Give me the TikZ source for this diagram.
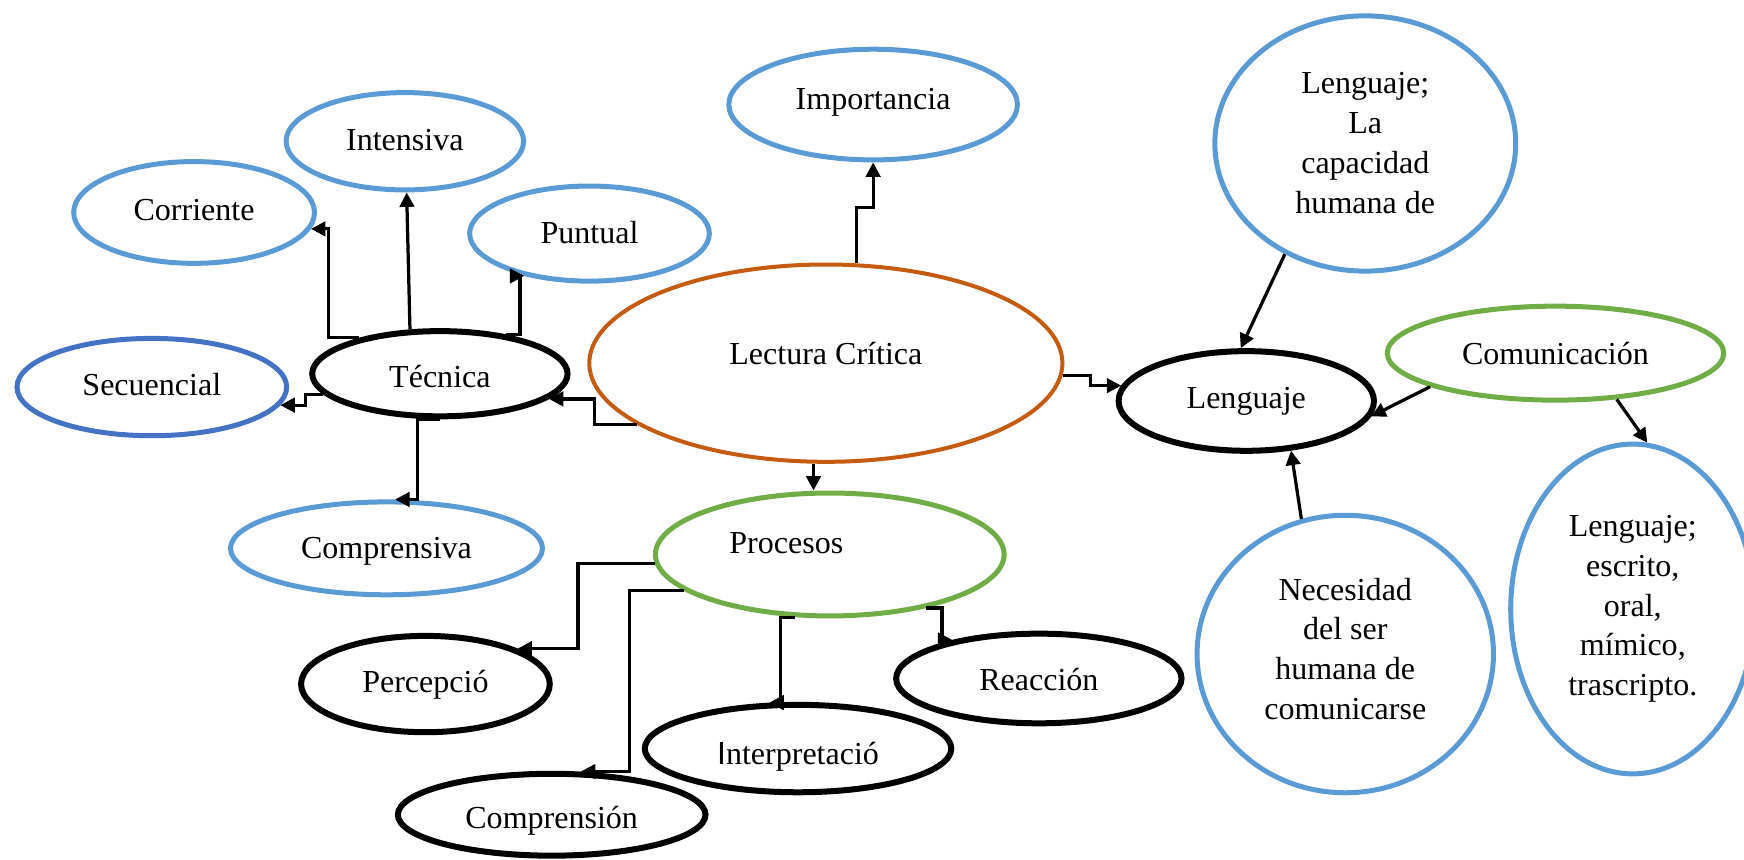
\documentclass[tikz,border=0pt]{standalone}
\usepackage{fontspec}
\setmainfont{Liberation Serif}
\newfontfamily\sansI{Liberation Sans}
\usetikzlibrary{arrows.meta,shapes.geometric}
\definecolor{lblue}{HTML}{5B9BD5}
\definecolor{dblue}{HTML}{4472C4}
\definecolor{orng}{HTML}{C55A11}
\definecolor{grn}{HTML}{70AD47}
\newcommand{\rb}[2]{\raisebox{#1}[10pt][3pt]{#2}}
\begin{document}
\begin{tikzpicture}[x=0.5pt,y=-0.5pt,
  el/.style={ellipse, inner sep=0pt, align=center, font=\fontsize{14.4pt}{17.9pt}\selectfont},
  bl/.style={el, draw=lblue, line width=2.25pt},
  db/.style={el, draw=dblue, line width=2.25pt},
  bk/.style={el, draw=black, line width=2.7pt},
  og/.style={el, draw=orng, line width=1.8pt},
  gr/.style={el, draw=grn, line width=2.25pt},
  conn/.style={line width=1.45pt, -{Triangle[length=6.5pt,width=6.5pt]}}]
\useasboundingbox (0,0) rectangle (1568,773);
% nodes
\node[bl, minimum width=129.75pt, minimum height=49.75pt] (importancia) at (785,94) {\rb{1.5pt}{Importancia}};
\node[bl, minimum width=106.75pt, minimum height=43.75pt] (intensiva) at (364,127) {\rb{-0.5pt}{Intensiva}};
\node[bl, minimum width=108.25pt, minimum height=45.75pt] (corriente) at (174.5,191) {\rb{0pt}{Corriente}};
\node[bl, minimum width=107.75pt, minimum height=42.75pt] (puntual) at (530,210) {\rb{-1pt}{Puntual}};
\node[bk, minimum width=114.8pt, minimum height=38.3pt] (tecnica) at (395.5,336) {\rb{-2.5pt}{Técnica}};
\node[db, minimum width=121.25pt, minimum height=43.75pt] (secuencial) at (136.5,348) {\rb{-0.5pt}{Secuencial}};
\node[og, minimum width=212.7pt, minimum height=88.7pt] (lectura) at (742.5,326.5) {\rb{2.75pt}{Lectura Crítica}};
\node[bl, minimum width=135.25pt, minimum height=114.75pt] (lencap) at (1227.5,129) {\raisebox{-1pt}[\height][\depth]{\begin{tabular}{@{}c@{}}Lenguaje;\\La\\capacidad\\humana de\end{tabular}}};
\node[gr, minimum width=151.25pt, minimum height=42.25pt] (comunic) at (1398.5,317.5) {\rb{-1.5pt}{Comunicación}};
\node[bk, minimum width=114.8pt, minimum height=44.8pt] (lenguaje) at (1120.5,360.5) {\rb{0.25pt}{Lenguaje}};
\node[bl, minimum width=140.25pt, minimum height=41.75pt] (comprensiva) at (347.5,493) {\rb{-1pt}{Comprensiva}};
\node[gr, minimum width=156.75pt, minimum height=55.25pt] (procesos) at (746,498.5) {\rb{3.75pt}{\makebox[0pt]{\hspace*{-39pt}Procesos}}};
\node[bk, minimum width=111.8pt, minimum height=43.3pt] (percepcio) at (382.5,615) {\rb{-0.5pt}{Percepció}};
\node[bk, minimum width=128.3pt, minimum height=40.3pt] (reaccion) at (934,610) {\rb{-2pt}{Reacción}};
\node[bk, minimum width=137.8pt, minimum height=39.3pt] (interpretacio) at (717.5,673) {\rb{-3.5pt}{{\sansI I}nterpretació}};
\node[bk, minimum width=138.3pt, minimum height=36.8pt] (comprension) at (496,732.5) {\rb{-2.75pt}{Comprensión}};
\node[bl, minimum width=133.25pt, minimum height=124.75pt] (necesidad) at (1209.5,588) {\raisebox{1pt}[\height][\depth]{\begin{tabular}{@{}c@{}}Necesidad\\del ser\\humana de\\comunicarse\end{tabular}}};
\node[bl, minimum width=109.75pt, minimum height=148.25pt] (escrito) at (1468,547.5) {Lenguaje;\\escrito,\\oral,\\mímico,\\trascripto.};
% connectors
\draw[conn] (lectura.73.8) -- ++(0,-50) -| (importancia.south);
\draw[conn] (lectura.198.9) -- ++(-38,0) |- (tecnica.-13.8);
\draw[conn] (lectura.-3.1) -- ++(25,0) |- (lenguaje.173.7);
\draw[conn] (lectura.263.2) -- (lectura.263.2 |- procesos.north);
\draw[conn] (tecnica.156.8) -- ++(-28,0) |- (corriente.-8.1);
\draw[conn] (tecnica.124.8) -- (intensiva.-88);
\draw[conn] (tecnica.31.7) -- ++(13,0) |- (puntual.213.8);
\draw[conn] (tecnica.190) -- ++(-16,0) |- (secuencial.-8.4);
\draw[conn] (tecnica.south) -- ++(-20,0) |- (comprensiva.80);
\draw[conn] (procesos.183) -- ++(-69,0) |- (percepcio.21.2);
\draw[conn] (procesos.194.3) -- ++(-49,0) |- (comprension.56.3);
\draw[conn] (procesos.241.2) -- ++(-13,0) |- (interpretacio.122.6);
\draw[conn] (procesos.-29.3) -- ++(14,0) |- (reaccion.156.7);
\draw[conn] (lencap.234.1) -- (lenguaje.96.4);
\draw[conn] (comunic.195) -- (lenguaje.-7.4);
\draw[conn] (comunic.-37.3) -- (escrito.85.4);
\draw[conn] (necesidad.108.2) -- (lenguaje.-48.4);
\end{tikzpicture}
\end{document}
